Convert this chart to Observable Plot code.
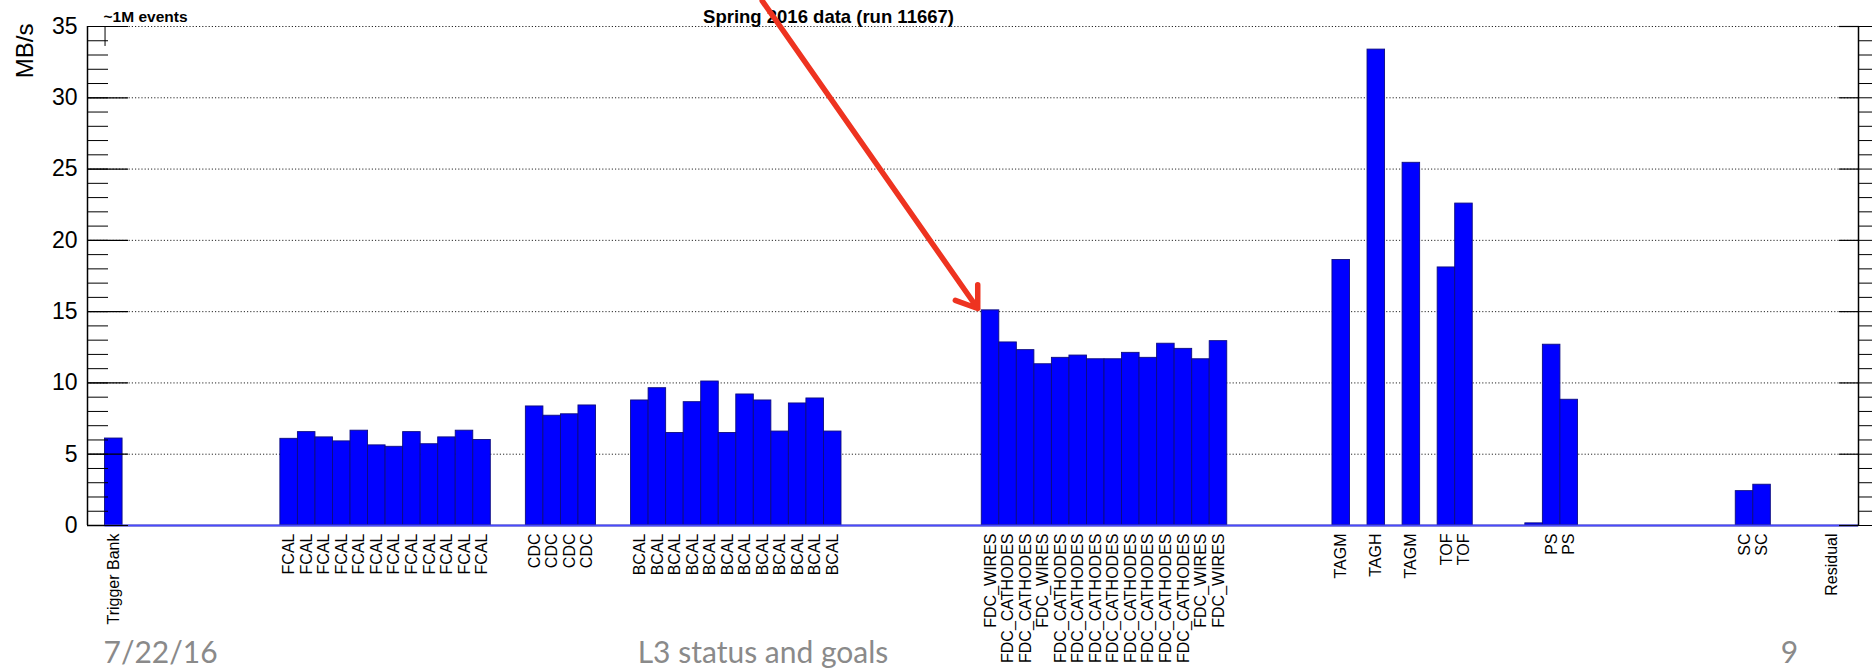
<!DOCTYPE html>
<html><head><meta charset="utf-8">
<script src="https://cdn.jsdelivr.net/npm/d3@7"></script>
<script src="https://cdn.jsdelivr.net/npm/@observablehq/plot@0.6"></script>
<style>
body{margin:0;background:#fff;}
#wrap{width:1872px;height:668px;overflow:hidden;}
</style></head><body><div id="wrap"></div>
<script>
// bin positions (histogram bin index), labels and rates (MB/s)
const binIndex = [0,
  10,11,12,13,14,15,16,17,18,19,20,21,
  24,25,26,27,
  30,31,32,33,34,35,36,37,38,39,40,41,
  50,51,52,53,54,55,56,57,58,59,60,61,62,63,
  70,72,74,76,77,
  81,82,83,
  93,94,
  98];
const binNames = ["Trigger Bank",
  "FCAL","FCAL","FCAL","FCAL","FCAL","FCAL","FCAL","FCAL","FCAL","FCAL","FCAL","FCAL",
  "CDC","CDC","CDC","CDC",
  "BCAL","BCAL","BCAL","BCAL","BCAL","BCAL","BCAL","BCAL","BCAL","BCAL","BCAL","BCAL",
  "FDC_WIRES","FDC_CATHODES","FDC_CATHODES","FDC_WIRES","FDC_CATHODES","FDC_CATHODES","FDC_CATHODES",
  "FDC_CATHODES","FDC_CATHODES","FDC_CATHODES","FDC_CATHODES","FDC_CATHODES","FDC_WIRES","FDC_WIRES",
  "TAGM","TAGH","TAGM","TOF","TOF",
  "","PS","PS",
  "SC","SC",
  "Residual"];
const rates = [6.1,
  6.08,6.55,6.18,5.9,6.65,5.62,5.52,6.55,5.7,6.18,6.65,6.0,
  8.35,7.7,7.8,8.42,
  8.77,9.63,6.49,8.65,10.1,6.49,9.19,8.77,6.59,8.56,8.91,6.59,
  15.09,12.84,12.3,11.31,11.76,11.92,11.66,11.66,12.11,11.76,12.75,12.39,11.66,12.93,
  18.62,33.38,25.44,18.1,22.58,
  0.15,12.68,8.82,
  2.41,2.86,
  0];
const xDomain = [-1.5, 99.5];
const yDomain = [0, 35];
const majorTicks = [0,5,10,15,20,25,30,35];
const minorTicks = d3.range(0, 36, 1);
const gridTicks = [5,10,15,20,25,30,35];
const yLabel = "MB/s";
const cornerNote = "~1M events";
const title = "Spring 2016 data (run 11667)";
const footer = ["7/22/16", "L3 status and goals", "9"];
// annotation arrow in data units (bin, MB/s)
const arrowFrom = [36.98, 36.8];
const arrowTo = [49.27, 15.22];

const data = binIndex.map((b, i) => ({bin: b, name: binNames[i], rate: rates[i]}));
const font = "'Liberation Sans', Arial, Helvetica, sans-serif";
const footFont = "Lato, 'Open Sans', sans-serif";

const chart = Plot.plot({
  width: 1872, height: 668,
  marginLeft: 87, marginRight: 14, marginTop: 26, marginBottom: 143,
  style: {fontFamily: font, fontSize: "16px", color: "#000", background: "#fff", overflow: "visible"},
  x: {type: "linear", domain: xDomain, axis: null},
  y: {domain: yDomain},
  marks: [
    Plot.gridY(gridTicks, {stroke: "#000", strokeOpacity: 0.85, strokeDasharray: "1.2,2"}),
    Plot.rectY(data, {x1: d => d.bin - 0.5, x2: d => d.bin + 0.5, y1: 0, y2: "rate",
      fill: "#0000ff", stroke: "#0c0c80", strokeWidth: 0.9}),
    Plot.ruleY([0], {stroke: "#000", strokeWidth: 1.5}),
    Plot.ruleY([0], {x1: -0.5, x2: xDomain[1], stroke: "#4a4aff", strokeWidth: 2}),
    Plot.ruleX([xDomain[0]], {y1: 0, y2: 35, stroke: "#000", strokeWidth: 1.5}),
    Plot.ruleX([xDomain[1]], {y1: 0, y2: 35, stroke: "#000", strokeWidth: 1.5}),
    Plot.ruleX([-0.5], {y1: 35, y2: 33.6, stroke: "#000", strokeWidth: 1}),
    Plot.axisY({ticks: majorTicks, tickSize: 0, tickPadding: 10, fontSize: 23, label: null}),
    Plot.axisY({ticks: majorTicks, tickSize: -41, tickFormat: () => "", label: null, strokeWidth: 1.2}),
    Plot.axisY({ticks: minorTicks, tickSize: -21, tickFormat: () => "", label: null}),
    Plot.axisY({anchor: "right", ticks: majorTicks, tickSize: -20, tickFormat: () => "", label: null, strokeWidth: 1.2}),
    Plot.axisY({anchor: "right", ticks: minorTicks, tickSize: 14, tickFormat: () => "", label: null}),
    Plot.text(data, {x: "bin", y: 0, text: "name", rotate: -90, textAnchor: "end", dy: 8,
      fontSize: 16, fill: "#000"}),
    Plot.text([yLabel], {frameAnchor: "top-left", rotate: -90, textAnchor: "end", dx: -72, dy: -3, fontSize: 24}),
    Plot.text([cornerNote], {frameAnchor: "top-left", textAnchor: "start", dx: 16, dy: -16, fontSize: 15.5, fontWeight: "bold"}),
    Plot.text([title], {frameAnchor: "top-left", textAnchor: "middle", dx: 741, dy: -17, fontSize: 18.5, fontWeight: "bold"}),
    Plot.arrow([0], {x1: () => arrowFrom[0], y1: () => arrowFrom[1], x2: () => arrowTo[0], y2: () => arrowTo[1],
      stroke: "#ee3320", strokeWidth: 5.5, headLength: 6.5, headAngle: 70}),
    Plot.text([footer[0]], {frameAnchor: "bottom-left", textAnchor: "start", dx: 16, dy: 137, fontSize: 30, fontFamily: footFont, fill: "#8a8a8a"}),
    Plot.text([footer[1]], {frameAnchor: "bottom", textAnchor: "middle", dx: -210, dy: 137, fontSize: 30, fontFamily: footFont, fill: "#8a8a8a"}),
    Plot.text([footer[2]], {frameAnchor: "bottom-right", textAnchor: "middle", dx: -69, dy: 137, fontSize: 30, fontFamily: footFont, fill: "#8a8a8a"})
  ]
});
document.getElementById("wrap").appendChild(chart);
</script></body></html>
